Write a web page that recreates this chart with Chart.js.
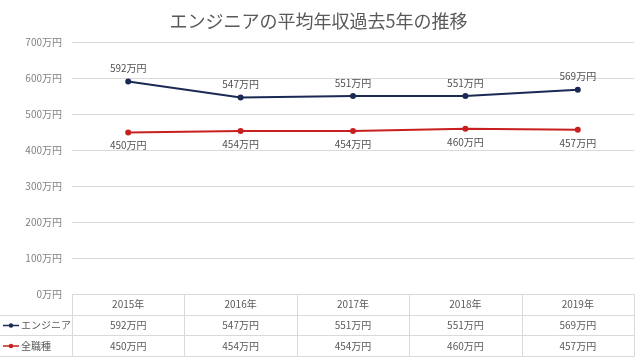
<!DOCTYPE html>
<html>
<head>
<meta charset="utf-8">
<script src="https://cdn.jsdelivr.net/npm/chart.js@4"></script>
<style>
  html, body { margin: 0; padding: 0; background: #fff; }
  #wrap { width: 640px; height: 359px; }
</style>
</head>
<body>
<div id="wrap"><canvas id="chart1" width="640" height="359"></canvas></div>
<script>
const years = ['2015年', '2016年', '2017年', '2018年', '2019年']
const engineer = [592, 547, 551, 551, 569]
const allJobs = [450, 454, 454, 460, 457]
const seriesNames = ['エンジニア', '全職種']
const seriesColors = ['#1b2a55', '#c8201e']

const font = '"Noto Sans CJK JP", "Noto Sans", sans-serif'
const gray = '#595959'
const gridColor = '#d9d9d9'

// labels above/below each point
const pointLabels = {
  id: 'pointLabels',
  afterDatasetsDraw(chart) {
    let ctx = chart.ctx
    ctx.save()
    ctx.font = '10px ' + font
    ctx.fillStyle = '#505050'
    ctx.textAlign = 'center'
    ctx.textBaseline = 'middle'
    chart.data.datasets.forEach((ds, i) => {
      chart.getDatasetMeta(i).data.forEach((pt, j) => {
        let dy = i === 0 ? -13 : 13
        ctx.fillText(ds.data[j] + '万円', pt.x, pt.y + dy)
      })
    })
    ctx.restore()
  }
}

// data table under the plot
const dataTable = {
  id: 'dataTable',
  afterDraw(chart) {
    let ctx = chart.ctx
    let x = chart.scales.x
    let area = chart.chartArea
    let top = Math.round(area.bottom) + 0.5
    let rows = [top, top + 21, top + 41, top + 62]
    let step = x.getPixelForValue(1) - x.getPixelForValue(0)
    ctx.save()
    ctx.strokeStyle = gridColor
    ctx.lineWidth = 1
    ctx.beginPath()
    ctx.moveTo(area.left, rows[0]); ctx.lineTo(area.right, rows[0])
    for (let r = 1; r < rows.length; r++) {
      ctx.moveTo(0, rows[r]); ctx.lineTo(area.right, rows[r])
    }
    for (let c = 0; c <= years.length; c++) {
      let cx = Math.round(x.getPixelForValue(0) - step / 2 + c * step) + 0.5
      ctx.moveTo(cx, rows[0]); ctx.lineTo(cx, rows[3])
    }
    ctx.stroke()

    ctx.font = '10px ' + font
    ctx.textBaseline = 'middle'
    let series = [engineer, allJobs]
    series.forEach((vals, i) => {
      let cy = (rows[i + 1] + rows[i + 2]) / 2
      // legend key
      ctx.strokeStyle = seriesColors[i]
      ctx.fillStyle = seriesColors[i]
      ctx.lineWidth = 1.5
      ctx.beginPath()
      ctx.moveTo(3, cy); ctx.lineTo(19, cy)
      ctx.stroke()
      ctx.beginPath()
      ctx.arc(11, cy, 2.2, 0, Math.PI * 2)
      ctx.fill()
      ctx.fillStyle = gray
      ctx.textAlign = 'left'
      ctx.fillText(seriesNames[i], 21, cy)
      ctx.textAlign = 'center'
      vals.forEach((v, j) => {
        ctx.fillText(v + '万円', x.getPixelForValue(j), cy)
      })
    })
    ctx.restore()
  }
}

let ctx = document.getElementById('chart1').getContext('2d')
new Chart(ctx, {
  type: 'line',
  data: {
    labels: years,
    datasets: [{
      label: seriesNames[0],
      data: engineer,
      borderColor: seriesColors[0],
      backgroundColor: seriesColors[0],
      borderWidth: 2,
      pointRadius: 2,
      tension: 0
    }, {
      label: seriesNames[1],
      data: allJobs,
      borderColor: seriesColors[1],
      backgroundColor: seriesColors[1],
      borderWidth: 2,
      pointRadius: 2,
      tension: 0
    }]
  },
  options: {
    responsive: false,
    animation: false,
    layout: { padding: { left: 0, right: 3, top: 0, bottom: 44 } },
    plugins: {
      legend: { display: false },
      tooltip: { enabled: false },
      title: {
        display: true,
        text: 'エンジニアの平均年収過去5年の推移',
        color: gray,
        font: { family: font, size: 18, weight: 'normal' },
        padding: { top: 10, bottom: 11 }
      }
    },
    scales: {
      x: {
        offset: true,
        grid: { display: false, drawTicks: false, tickLength: 0 },
        border: { display: false },
        ticks: { color: gray, font: { family: font, size: 10 }, padding: 4 },
        afterFit: s => { s.height = 21 }
      },
      y: {
        min: 0,
        max: 700,
        ticks: {
          stepSize: 100,
          color: '#808080',
          font: { family: font, size: 10 },
          padding: 10,
          callback: v => v + '万円'
        },
        grid: { color: gridColor, drawTicks: false },
        border: { display: false },
        afterFit: s => { s.width = 72 }
      }
    }
  },
  plugins: [pointLabels, dataTable]
})
</script>
</body>
</html>
